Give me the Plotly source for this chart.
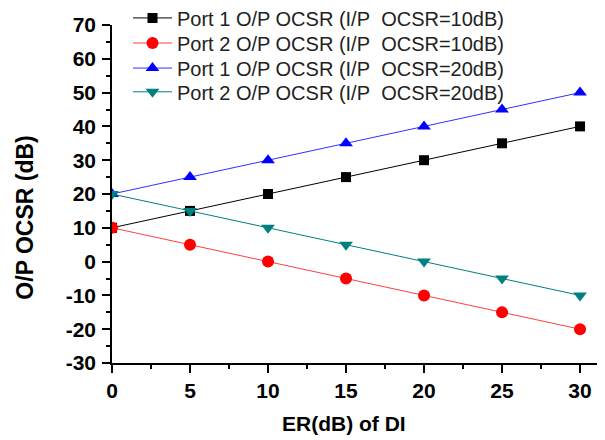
import plotly.graph_objects as go

x = [0, 5, 10, 15, 20, 25, 30]
port1_10 = [10, 15, 20, 25, 30, 35, 40]
port2_10 = [10, 5, 0, -5, -10, -15, -20]
port1_20 = [20, 25, 30, 35, 40, 45, 50]
port2_20 = [20, 15, 10, 5, 0, -5, -10]

names = [
    "Port 1 O/P OCSR (I/P\u00a0\u00a0OCSR=10dB)",
    "Port 2 O/P OCSR (I/P\u00a0\u00a0OCSR=10dB)",
    "Port 1 O/P OCSR (I/P\u00a0\u00a0OCSR=20dB)",
    "Port 2 O/P OCSR (I/P\u00a0\u00a0OCSR=20dB)",
]
series = [port1_10, port2_10, port1_20, port2_20]
colors = ["#000000", "#ff0000", "#0000ff", "#008080"]
line_colors = ["#000000", "#ff4040", "#3030ff", "#008080"]
symbols = ["square", "circle", "triangle-up", "triangle-down"]
sizes = [10, 12, 12, 12]
legend_ids = ["legend", "legend2", "legend3", "legend4"]
legend_y = [0.977, 0.919, 0.861, 0.806]

font_fam = "Arial, Liberation Sans, sans-serif"

fig = go.Figure()
for n, s, c, lc, sym, sz, lid in zip(names, series, colors, line_colors, symbols, sizes, legend_ids):
    fig.add_trace(go.Scatter(
        x=x, y=s, name=n, mode="lines+markers",
        line=dict(color=lc, width=1),
        marker=dict(color=c, symbol=sym, size=sz),
        legend=lid,
    ))

legend_common = dict(
    xref="container", yref="container",
    x=0.201, xanchor="left", yanchor="middle",
    bgcolor="rgba(0,0,0,0)",
    font=dict(size=20, family=font_fam, color="#222222"),
    itemwidth=39,
)
legends = {}
for lid, ly in zip(legend_ids, legend_y):
    legends[lid] = dict(legend_common, y=ly)

fig.update_layout(
    width=597, height=432,
    margin=dict(l=104, r=0, t=17, b=77, autoexpand=False),
    paper_bgcolor="white", plot_bgcolor="white",
    font=dict(family=font_fam, color="black"),
    showlegend=True,
    **legends,
    xaxis=dict(
        range=[0, 31.6], showgrid=False, zeroline=False,
        showline=True, linecolor="black", linewidth=1.5,
        ticks="outside", ticklen=8, tickwidth=1.5, tickcolor="black",
        tickvals=[0, 5, 10, 15, 20, 25, 30],
        ticktext=["0", "5", "10", "15", "20", "25", "30"],
        tickangle=0,
        minor=dict(ticks="outside", ticklen=4, tickwidth=1.5, tickcolor="black", dtick=2.5, tick0=0, showgrid=False),
        tickfont=dict(size=21, family=font_fam, weight="bold"),
    ),
    yaxis=dict(
        range=[-30, 70], showgrid=False, zeroline=False,
        showline=True, linecolor="black", linewidth=1.5,
        ticks="outside", ticklen=8, tickwidth=1.5, tickcolor="black",
        tickvals=[-30, -20, -10, 0, 10, 20, 30, 40, 50, 60, 70],
        ticktext=["-30", "-20", "-10", "0", "10", "20", "30", "40", "50", "60", "70"],
        ticklabelstandoff=2,
        minor=dict(ticks="outside", ticklen=4, tickwidth=1.5, tickcolor="black", dtick=5, tick0=0, showgrid=False),
        tickfont=dict(size=21, family=font_fam, weight="bold"),
    ),
    annotations=[
        dict(text="<b>ER(dB) of DI</b>", xref="paper", yref="paper",
             x=0.4706, y=-0.180, xanchor="center", yanchor="middle",
             showarrow=False, font=dict(size=21, family=font_fam, color="black")),
        dict(text="<b>O/P OCSR (dB)</b>", xref="paper", yref="paper",
             x=-0.1765, y=0.43, xanchor="center", yanchor="middle", textangle=-90,
             showarrow=False, font=dict(size=23, family=font_fam, color="black")),
    ],
)

fig.write_html("out.html")
